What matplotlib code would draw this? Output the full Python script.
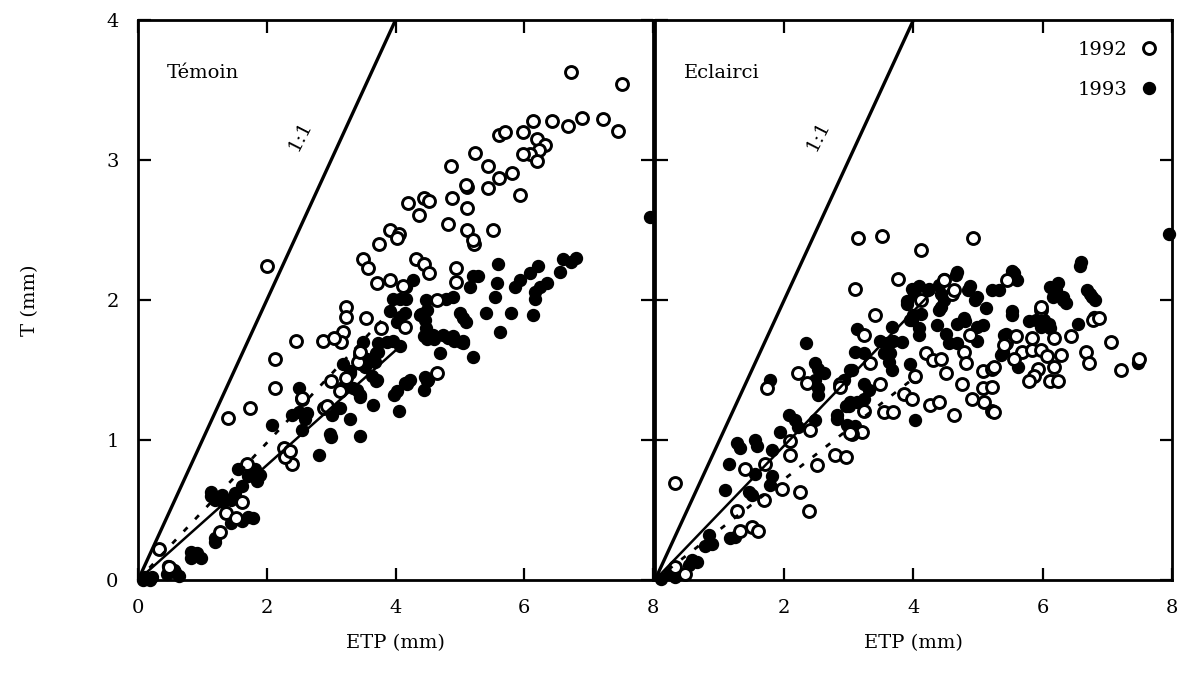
import matplotlib.pyplot as plt
import numpy as np

plt.rcParams['font.family'] = ['DejaVu Serif']

# ---- data (ETP, T) ----
# Temoin 1992 (open circles)
tem92_x = [6.72, 7.52, 6.14, 6.43, 6.68, 6.90, 7.22, 7.45, 5.61, 5.70, 5.98, 6.19, 6.32, 6.23, 6.09, 6.19, 5.98,
           5.23, 4.86, 5.43, 5.81, 5.61, 5.11, 4.87, 5.43, 5.93, 5.11, 4.81, 5.11, 5.51, 5.22, 4.20, 4.36, 4.44, 4.52,
           3.91, 4.06, 4.02, 3.74, 3.49, 3.57, 4.32, 4.44, 4.52, 4.94, 4.94, 3.71, 3.91, 2.00, 4.12, 4.65, 3.23, 3.23, 3.54,
           2.45, 2.87, 3.18, 3.15, 3.04, 2.12, 3.78, 4.15, 2.12, 1.74, 1.40, 3.00, 3.23, 3.13, 2.89, 3.44, 3.44, 2.55, 4.64,
           2.26, 2.39, 2.29, 1.69, 1.61, 1.37, 1.52, 1.27, 0.32, 0.48, 3.42, 3.45, 2.54, 2.93, 2.36, 5.10, 5.20]
tem92_y = [3.63, 3.54, 3.28, 3.28, 3.24, 3.30, 3.29, 3.21, 3.18, 3.20, 3.20, 3.15, 3.11, 3.07, 3.04, 2.99, 3.04,
           3.05, 2.96, 2.96, 2.91, 2.87, 2.81, 2.73, 2.80, 2.75, 2.66, 2.54, 2.50, 2.50, 2.40, 2.69, 2.61, 2.73, 2.71,
           2.50, 2.47, 2.44, 2.40, 2.29, 2.23, 2.29, 2.26, 2.19, 2.23, 2.13, 2.12, 2.14, 2.24, 2.10, 2.00, 1.95, 1.88, 1.87,
           1.71, 1.71, 1.77, 1.70, 1.73, 1.58, 1.80, 1.81, 1.37, 1.23, 1.16, 1.42, 1.44, 1.35, 1.23, 1.61, 1.55, 1.29, 1.48,
           0.94, 0.83, 0.88, 0.83, 0.56, 0.48, 0.44, 0.34, 0.22, 0.09, 1.56, 1.63, 1.30, 1.24, 0.92, 2.82, 2.43]

# Temoin 1993 (filled circles)
tem93_x = [7.95, 6.81, 6.73, 6.60, 6.55, 6.21, 6.09, 5.93, 5.85, 6.35, 6.24, 6.16, 6.16, 6.13, 5.80, 5.62, 5.59, 5.57, 5.54,
           5.28, 5.20, 5.16, 4.89, 5.41, 5.00, 5.10, 5.05, 4.89, 5.05, 5.20, 4.27, 4.17, 3.96, 4.07, 4.17, 4.48, 4.79,
           4.38, 4.46, 4.48, 4.58, 4.74, 5.05, 4.69, 3.91, 4.07, 4.02, 4.15, 3.86, 3.96, 4.07, 3.73, 3.73,
           3.68, 3.63, 3.71, 3.52, 4.15, 4.22, 4.02, 4.46, 4.50, 3.29, 3.18, 3.40, 3.45,
           2.50, 2.39, 2.50, 2.60, 2.08, 2.81, 3.00, 3.29, 3.44, 3.65, 4.05, 3.97, 4.18, 4.44, 4.49, 3.34, 3.44, 3.70,
           3.70, 3.50, 3.55, 3.18, 3.29, 3.02, 3.13, 4.81, 4.91, 5.02, 4.44, 4.49, 4.60, 4.39, 4.49,
           1.71, 1.79, 1.44, 1.61, 1.13, 1.19, 1.32, 1.44, 1.55, 1.71, 1.84, 1.61, 1.50, 1.19, 0.82, 0.98, 0.56, 0.64,
           0.45, 0.08, 0.19, 2.62, 2.54, 2.98, 1.82, 1.89, 1.14, 1.30, 1.20, 0.83, 0.91, 0.47, 0.57, 0.11, 0.21]
tem93_y = [2.59, 2.30, 2.27, 2.29, 2.20, 2.24, 2.19, 2.14, 2.09, 2.12, 2.09, 2.01, 2.06, 1.89, 1.91, 1.77, 2.26, 2.12, 2.02,
           2.17, 2.17, 2.09, 2.02, 1.91, 1.91, 1.84, 1.87, 1.74, 1.69, 1.59, 2.14, 2.09, 2.01, 2.01, 2.01, 2.00, 2.01,
           1.89, 1.86, 1.80, 1.75, 1.75, 1.71, 1.62, 1.92, 1.88, 1.84, 1.91, 1.70, 1.71, 1.67, 1.63, 1.69,
           1.56, 1.46, 1.43, 1.52, 1.41, 1.43, 1.35, 1.45, 1.43, 1.48, 1.38, 1.36, 1.31,
           1.37, 1.18, 1.20, 1.15, 1.11, 0.89, 1.02, 1.15, 1.03, 1.25, 1.21, 1.32, 1.40, 1.36, 1.42, 1.37, 1.32, 1.42,
           1.62, 1.70, 1.58, 1.54, 1.49, 1.18, 1.23, 1.73, 1.71, 1.70, 1.74, 1.72, 1.72, 1.90, 1.93,
           0.45, 0.44, 0.41, 0.42, 0.60, 0.57, 0.56, 0.57, 0.79, 0.74, 0.71, 0.67, 0.62, 0.27, 0.16, 0.16, 0.07, 0.03,
           0.04, 0.00, 0.00, 1.19, 1.07, 1.04, 0.79, 0.75, 0.63, 0.61, 0.30, 0.20, 0.19, 0.10, 0.06, 0.02, 0.02]

# Eclairci 1992 (open circles)
ecl92_x = [3.14, 3.51, 4.12, 4.92, 3.09, 3.76, 3.41, 4.48, 4.11, 4.60, 5.44, 5.97, 6.78, 4.62, 3.23, 3.33, 2.87,
           4.19, 4.31, 4.42, 4.78, 4.81, 4.88, 4.03, 4.50, 3.49, 3.85, 3.98, 4.26, 4.39, 4.62, 4.75, 3.54, 3.69,
           5.07, 5.22, 5.07, 5.22, 4.91, 5.09, 5.22, 3.20, 3.05, 3.23, 5.43, 5.97, 5.58, 5.40, 5.68, 5.56,
           5.84, 5.84, 5.97, 6.07, 6.18, 6.43, 6.28, 6.18, 5.92, 5.87, 5.79, 6.12, 6.23, 6.67, 6.72, 6.87, 7.05,
           7.21, 7.49, 5.25, 5.25, 0.31, 1.73, 2.22, 2.35, 1.40, 1.71, 2.09, 2.09, 2.40, 2.87, 3.02, 2.79, 2.95,
           2.51, 1.96, 1.68, 2.25, 2.38, 1.27, 1.32, 1.50, 1.60, 0.47, 0.31]
ecl92_y = [2.44, 2.46, 2.36, 2.44, 2.08, 2.15, 1.89, 2.14, 2.00, 2.04, 2.14, 1.93, 1.86, 2.07, 1.75, 1.55, 1.40,
           1.62, 1.57, 1.58, 1.63, 1.55, 1.75, 1.46, 1.48, 1.40, 1.33, 1.29, 1.25, 1.27, 1.18, 1.40, 1.20, 1.20,
           1.49, 1.51, 1.37, 1.38, 1.29, 1.27, 1.21, 1.06, 1.04, 1.21, 1.69, 1.95, 1.74, 1.68, 1.63, 1.58,
           1.73, 1.64, 1.64, 1.60, 1.73, 1.74, 1.61, 1.52, 1.51, 1.46, 1.42, 1.42, 1.42, 1.63, 1.55, 1.87, 1.70,
           1.50, 1.58, 1.52, 1.20, 0.69, 1.37, 1.48, 1.41, 0.79, 0.83, 0.89, 0.99, 1.07, 1.38, 1.05, 0.89, 0.88,
           0.82, 0.65, 0.57, 0.63, 0.49, 0.49, 0.35, 0.38, 0.35, 0.04, 0.09]

# Eclairci 1993 (filled circles)
ecl93_x = [6.57, 4.66, 4.48, 5.55, 5.60, 6.12, 6.20, 6.31, 6.16, 6.73, 6.81, 5.21, 5.32, 4.01, 4.22, 4.43, 4.85, 4.95,
           4.43, 3.90, 3.98, 5.53, 4.79, 7.96, 4.68, 4.39, 4.24, 4.08, 3.98, 3.90, 4.88, 4.99, 5.12, 4.47, 4.39,
           4.00, 4.11, 3.95, 3.67, 4.08, 4.08, 4.37, 4.50, 4.55, 4.68, 4.68, 4.78, 4.99, 5.07, 4.99, 3.13, 3.10, 3.23,
           3.49, 3.59, 3.69, 3.82, 3.54, 3.64, 3.62, 3.67, 3.95, 4.03, 3.02, 2.92, 3.23, 3.31, 3.23, 3.02, 3.13, 2.95,
           2.82, 2.97, 3.10, 4.03, 5.40, 5.38, 6.59, 5.53, 6.23, 6.18, 6.31, 6.36, 6.69, 6.77, 6.80, 5.53, 6.54,
           5.79, 5.89, 6.02, 6.10, 5.97, 6.12, 5.43, 5.35, 5.61, 5.19, 7.47, 2.33, 2.48, 2.53, 2.61, 2.48, 2.53, 2.53,
           1.78, 3.05, 3.00, 2.82, 2.48, 2.07, 2.17, 2.22, 1.94, 1.27, 1.32, 1.55, 1.58, 1.14, 1.81, 1.55, 1.81, 1.78,
           1.09, 1.45, 1.50, 1.16, 1.24, 0.78, 0.88, 0.83, 0.57, 0.65, 0.52, 0.21, 0.31, 0.10]
ecl93_y = [2.24, 2.18, 2.15, 2.19, 2.14, 2.09, 2.07, 2.02, 2.02, 2.04, 2.00, 2.07, 2.07, 2.04, 2.07, 2.04, 2.07, 2.00,
           1.95, 1.97, 1.86, 1.89, 1.85, 2.47, 2.20, 2.11, 2.08, 2.10, 2.08, 1.99, 2.10, 2.02, 1.94, 2.00, 1.93,
           1.89, 1.90, 1.86, 1.81, 1.80, 1.75, 1.82, 1.76, 1.69, 1.69, 1.83, 1.87, 1.81, 1.82, 1.71, 1.79, 1.63, 1.62,
           1.71, 1.69, 1.71, 1.70, 1.62, 1.62, 1.56, 1.50, 1.54, 1.45, 1.50, 1.43, 1.40, 1.36, 1.29, 1.27, 1.27, 1.24,
           1.18, 1.11, 1.10, 1.14, 1.75, 1.63, 2.27, 2.21, 2.12, 2.04, 2.00, 1.98, 2.07, 2.02, 1.88, 1.92, 1.83,
           1.85, 1.86, 1.86, 1.83, 1.81, 1.80, 1.76, 1.61, 1.52, 1.38, 1.55, 1.69, 1.55, 1.51, 1.48, 1.43, 1.37, 1.32,
           1.43, 1.50, 1.24, 1.15, 1.14, 1.18, 1.14, 1.09, 1.06, 0.98, 0.94, 1.00, 0.96, 0.83, 0.93, 0.76, 0.74, 0.68,
           0.64, 0.63, 0.61, 0.30, 0.31, 0.24, 0.26, 0.32, 0.14, 0.13, 0.11, 0.04, 0.02, 0.01]

# fitted lines: (slope, end of ETP range)
tem_solid = (0.41, 4.1)
tem_dotted = (0.49, 3.9)
ecl_solid = (0.48, 4.3)
ecl_dotted = (0.36, 4.0)

fig = plt.figure(figsize=(11.85, 6.87), dpi=100)
ax1 = fig.add_axes([0.1165, 0.1557, 0.4346, 0.8152])
ax2 = fig.add_axes([0.5527, 0.1557, 0.4363, 0.8152])

open_kw = dict(ls='none', marker='o', ms=8.6, mfc='white', mec='black', mew=2.1, clip_on=False)
fill_kw = dict(ls='none', marker='o', ms=8.6, mfc='black', mec='black', mew=1.0, clip_on=False)

panels = [(ax1, 'Témoin', tem92_x, tem92_y, tem93_x, tem93_y, tem_solid, tem_dotted),
          (ax2, 'Eclairci', ecl92_x, ecl92_y, ecl93_x, ecl93_y, ecl_solid, ecl_dotted)]

for ax, name, x92, y92, x93, y93, solid, dotted in panels:
    # 1:1 line
    ax.plot([0, 4], [0, 4], color='black', lw=2.4, zorder=1)
    ax.text(2.52, 3.17, '1:1', rotation=63, ha='center', va='center', fontsize=14)
    # regression lines
    xs = np.array([0, solid[1]])
    ax.plot(xs, solid[0] * xs, color='black', lw=1.8, zorder=4)
    xd = np.array([0, dotted[1]])
    ax.plot(xd, dotted[0] * xd, color='black', lw=2.0, ls=(0, (2, 4)), zorder=4)

    ax.plot(x93, y93, label='1993', zorder=3, **fill_kw)
    ax.plot(x92, y92, label='1992', zorder=3, **open_kw)

    ax.text(0.45, 3.62, name, ha='left', va='center', fontsize=14)
    ax.set_xlim(0, 8)
    ax.set_ylim(0, 4)
    ax.set_xticks([0, 2, 4, 6, 8])
    ax.set_yticks([0, 1, 2, 3, 4])
    ax.tick_params(direction='in', length=9, width=1.6, top=True, right=True,
                   labelsize=14, pad=14)
    for sp in ax.spines.values():
        sp.set_linewidth(2.0)
    ax.set_xlabel('ETP (mm)', fontsize=14, labelpad=12)

ax1.set_ylabel('T (mm)', fontsize=14, labelpad=48)
ax2.set_yticklabels([])
ax2.set_xticklabels(['', '2', '4', '6', '8'])

h, l = ax2.get_legend_handles_labels()
ax2.legend(h[::-1], l[::-1], loc='upper right', frameon=False, markerfirst=False,
           fontsize=14, handlelength=0.8, handletextpad=0.7, labelspacing=1.1,
           borderaxespad=0.4, bbox_to_anchor=(1.0, 0.99))

fig.savefig('out.png', dpi=100)
